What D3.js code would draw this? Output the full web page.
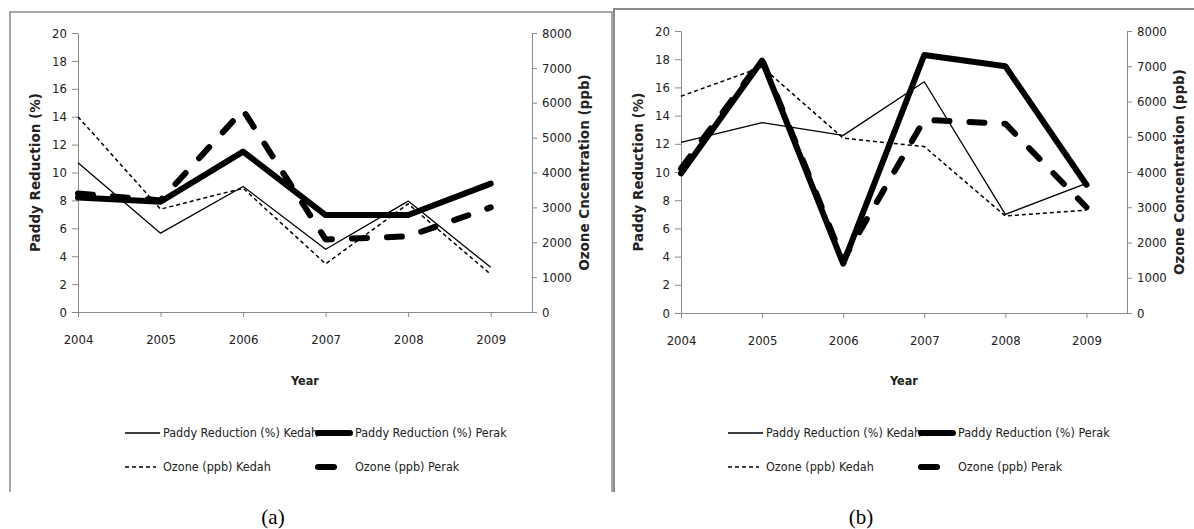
<!DOCTYPE html>
<html>
<head>
<meta charset="utf-8">
<script src="https://cdn.jsdelivr.net/npm/d3@7"></script>
<style>
  body { margin: 0; background: #fff; }
  svg { display: block; }
  .axis path, .axis line { stroke: #8a8a8a; }
  .axis text { font-family: "Liberation Sans Narrow", "DejaVu Sans Condensed", sans-serif; font-size: 13px; fill: #222; }
  .ttl { font-family: "DejaVu Sans", Verdana, sans-serif; font-weight: bold; font-size: 13.5px; fill: #222; }
  .lg { font-family: "Liberation Sans Narrow", "DejaVu Sans Condensed", sans-serif; font-size: 12.5px; fill: #222; }
</style>
</head>
<body>
<div id="chart"></div>
<script>
// Paddy reduction vs ozone, Kedah / Perak, two panels
const years = [2004, 2005, 2006, 2007, 2008, 2009];
const paddyTicks = [0, 2, 4, 6, 8, 10, 12, 14, 16, 18, 20];
const ozoneTicks = [0, 1000, 2000, 3000, 4000, 5000, 6000, 7000, 8000];

// panel (a)
const paddyKedahA = [10.7, 5.65, 9.0, 4.5, 7.95, 3.2];
const paddyPerakA = [8.2, 7.9, 11.5, 6.95, 6.95, 9.2];
const ozoneKedahA = [5600, 2950, 3550, 1380, 3100, 1080];
const ozonePerakA = [3400, 3200, 5790, 2080, 2170, 3000];

// panel (b)
const paddyKedahB = [12.1, 13.5, 12.6, 16.4, 7.0, 9.2];
const paddyPerakB = [9.9, 17.9, 3.5, 18.3, 17.5, 9.1];
const ozoneKedahB = [6150, 6980, 4960, 4720, 2750, 2920];
const ozonePerakB = [4100, 7200, 1500, 5480, 5370, 3000];

const legendLabels = ["Paddy Reduction (%) Kedah", "Paddy Reduction (%) Perak",
                      "Ozone (ppb) Kedah", "Ozone (ppb) Perak"];

const svg = d3.select("#chart")
    .append("svg")
    .attr("width", 1194)
    .attr("height", 529);

svg.append("rect").attr("width", 1194).attr("height", 529).attr("fill", "#fff");

// frames
svg.append("path")
    .attr("d", "M10,492 L10,12 L612,12 L612,492")
    .attr("fill", "none").attr("stroke", "#8a8a8a").attr("stroke-width", 1.5);
svg.append("path")
    .attr("d", "M614,492 L614,9 L1194,9")
    .attr("fill", "none").attr("stroke", "#8a8a8a").attr("stroke-width", 2);

const styles = [
    { w: 1.3, dash: null, cap: "butt" },
    { w: 6, dash: null, cap: "round" },
    { w: 1.5, dash: "4,3", cap: "butt" },
    { w: 6, dash: "15,20", cap: "round" }
];

function drawPanel(p) {
    const x = d3.scaleLinear().domain([2004, 2009.5]).range([p.left, p.right]);
    const yL = d3.scaleLinear().domain([0, 20]).range([p.bottom, p.top]);
    const yR = d3.scaleLinear().domain([0, 8000]).range([p.bottom, p.top]);

    svg.append("g")
        .attr("class", "axis")
        .attr("transform", `translate(${p.left},0)`)
        .call(d3.axisLeft(yL).tickValues(paddyTicks).tickSize(6).tickPadding(5).tickSizeOuter(0));

    svg.append("g")
        .attr("class", "axis")
        .attr("transform", `translate(${p.right},0)`)
        .call(d3.axisRight(yR).tickValues(ozoneTicks).tickFormat(d3.format("d"))
            .tickSize(5).tickPadding(5).tickSizeOuter(0));

    svg.append("g")
        .attr("class", "axis")
        .attr("transform", `translate(0,${p.bottom})`)
        .call(d3.axisBottom(x).tickValues(years).tickFormat(d3.format("d")).tickSize(5).tickPadding(18).tickSizeOuter(0));

    // axis titles
    svg.append("text")
        .attr("class", "ttl")
        .attr("transform", `translate(${p.left - 38},${(p.top + p.bottom) / 2}) rotate(-90)`)
        .attr("text-anchor", "middle")
        .text("Paddy Reduction (%)");

    svg.append("text")
        .attr("class", "ttl")
        .attr("transform", `translate(${p.right + 57},${(p.top + p.bottom) / 2}) rotate(-90)`)
        .attr("text-anchor", "middle")
        .text(p.rightTitle);

    svg.append("text")
        .attr("class", "lg")
        .attr("x", (p.left + p.right) / 2)
        .attr("y", 385)
        .attr("text-anchor", "middle")
        .attr("font-weight", "bold")
        .attr("font-size", "14px")
        .text("Year");

    // series
    const series = [
        { vals: p.paddyKedah, y: yL },
        { vals: p.paddyPerak, y: yL },
        { vals: p.ozoneKedah, y: yR },
        { vals: p.ozonePerak, y: yR }
    ];
    series.forEach((s, k) => {
        const st = styles[k];
        svg.append("path")
            .datum(s.vals)
            .attr("fill", "none")
            .attr("stroke", "#000")
            .attr("stroke-width", st.w)
            .attr("stroke-linecap", st.cap)
            .attr("stroke-linejoin", "round")
            .attr("stroke-dasharray", st.dash)
            .attr("d", d3.line().x((d, i) => x(years[i])).y(d => s.y(d)));
    });

    // legend
    const lx = p.left;
    const legend = [
        { x1: lx + 47, x2: lx + 82, tx: lx + 85, y: 433 },
        { x1: lx + 240, x2: lx + 272, tx: lx + 277, y: 433 },
        { x1: lx + 47, x2: lx + 78, tx: lx + 85, y: 467 },
        { x1: lx + 240, x2: lx + 256, tx: lx + 277, y: 467 }
    ];
    legend.forEach((l, k) => {
        const st = styles[k];
        svg.append("line")
            .attr("x1", l.x1).attr("x2", l.x2)
            .attr("y1", l.y).attr("y2", l.y)
            .attr("stroke", "#000")
            .attr("stroke-width", st.w)
            .attr("stroke-linecap", st.cap)
            .attr("stroke-dasharray", k === 3 ? null : st.dash);
        svg.append("text")
            .attr("class", "lg")
            .attr("x", l.tx)
            .attr("y", l.y)
            .attr("dy", "0.35em")
            .text(legendLabels[k]);
    });

    svg.append("text")
        .attr("x", p.caption)
        .attr("y", 524)
        .attr("text-anchor", "middle")
        .attr("font-family", "'Liberation Serif', 'Times New Roman', serif")
        .attr("font-size", "21px")
        .attr("fill", "#000")
        .text(p.label);
}

drawPanel({
    left: 78, right: 532, top: 33, bottom: 312,
    rightTitle: "Ozone Cncentration (ppb)", label: "(a)", caption: 273,
    paddyKedah: paddyKedahA, paddyPerak: paddyPerakA,
    ozoneKedah: ozoneKedahA, ozonePerak: ozonePerakA
});

drawPanel({
    left: 681, right: 1127, top: 31, bottom: 313,
    rightTitle: "Ozone Concentration (ppb)", label: "(b)", caption: 861,
    paddyKedah: paddyKedahB, paddyPerak: paddyPerakB,
    ozoneKedah: ozoneKedahB, ozonePerak: ozonePerakB
});
</script>
</body>
</html>
